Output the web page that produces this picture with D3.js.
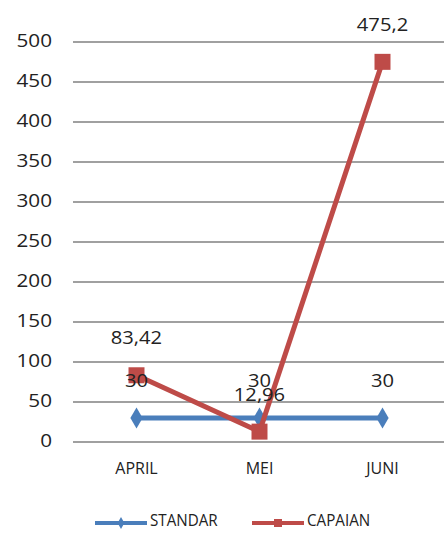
<!DOCTYPE html>
<html>
<head>
<meta charset="utf-8">
<script src="https://cdn.jsdelivr.net/npm/d3@7"></script>
<style>
  body { margin: 0; background: #fff; }
  text { font-family: "Open Sans", "Liberation Sans", sans-serif; fill: #222; }
</style>
</head>
<body>
<div id="chart"></div>
<script>
const months = ["APRIL", "MEI", "JUNI"];
const standar = [30, 30, 30];
const capaian = [83.42, 12.96, 475.2];
const yTicks = [0, 50, 100, 150, 200, 250, 300, 350, 400, 450, 500];
const seriesNames = ["STANDAR", "CAPAIAN"];

const width = 444, height = 536;
const svg = d3.select("#chart").append("svg")
    .attr("width", width)
    .attr("height", height);

const x = d3.scalePoint().domain(months).range([75, 444]).padding(0.5);
const y = d3.scaleLinear().domain([0, 500]).range([442, 42]);

// stretch text horizontally around its anchor x
const stretch = (cx, k) => `translate(${cx},0) scale(${k},1) translate(${-cx},0)`;

// gridlines
svg.append("g")
    .selectAll("line")
    .data(yTicks)
    .join("line")
    .attr("x1", 73)
    .attr("x2", width)
    .attr("y1", d => y(d))
    .attr("y2", d => y(d))
    .attr("stroke", "#808080")
    .attr("stroke-width", 1.5);

// y labels
svg.append("g")
    .selectAll("text")
    .data(yTicks)
    .join("text")
    .attr("x", 52)
    .attr("y", d => y(d))
    .attr("text-anchor", "end")
    .attr("dominant-baseline", "middle")
    .attr("transform", stretch(52, 1.15))
    .style("font-size", "18px")
    .text(d => d);

// x labels
svg.append("g")
    .selectAll("text")
    .data(months)
    .join("text")
    .attr("x", d => x(d))
    .attr("y", 470)
    .attr("text-anchor", "middle")
    .attr("dominant-baseline", "middle")
    .style("font-size", "16px")
    .text(d => d);

const blue = "#4a7ebb", red = "#be4b48";
const line = d3.line().x((d, i) => x(months[i])).y(d => y(d));

function drawSeries(values, color, shape) {
    svg.append("path")
        .datum(values)
        .attr("d", line)
        .attr("fill", "none")
        .attr("stroke", color)
        .attr("stroke-width", 5)
        .attr("stroke-linejoin", "round");
    svg.append("g")
        .selectAll("path")
        .data(values)
        .join("path")
        .attr("transform", (d, i) => `translate(${x(months[i])},${y(d)})`)
        .attr("d", shape)
        .attr("fill", color);
}

const diamond = d3.symbol().type(d3.symbolDiamond).size(130)();
const square = "M-8,-8H8V8H-8Z";

drawSeries(standar, blue, diamond);
drawSeries(capaian, red, square);

// data labels
const fmt = v => String(v).replace(".", ",");
function labels(values) {
    svg.append("g")
        .selectAll("text")
        .data(values)
        .join("text")
        .attr("x", (d, i) => x(months[i]))
        .attr("y", d => y(d) - 31)
        .attr("text-anchor", "middle")
        .attr("transform", (d, i) => stretch(x(months[i]), 1.12))
        .style("font-size", "18px")
        .text(d => fmt(d));
}
labels(standar);
labels(capaian);

// legend
const legend = svg.append("g");
const items = [
    { name: seriesNames[0], color: blue, shape: d3.symbol().type(d3.symbolDiamond).size(40)(), x0: 95 },
    { name: seriesNames[1], color: red, shape: "M-4,-4H4V4H-4Z", x0: 252 }
];
items.forEach(it => {
    legend.append("line")
        .attr("x1", it.x0).attr("x2", it.x0 + 52)
        .attr("y1", 523).attr("y2", 523)
        .attr("stroke", it.color).attr("stroke-width", 4);
    legend.append("path")
        .attr("d", it.shape)
        .attr("transform", `translate(${it.x0 + 26},523)`)
        .attr("fill", it.color);
    legend.append("text")
        .attr("x", it.x0 + 55)
        .attr("y", 522)
        .attr("dominant-baseline", "middle")
        .style("font-size", "16px")
        .attr("transform", stretch(it.x0 + 55, 0.95))
        .text(it.name);
});
</script>
</body>
</html>
